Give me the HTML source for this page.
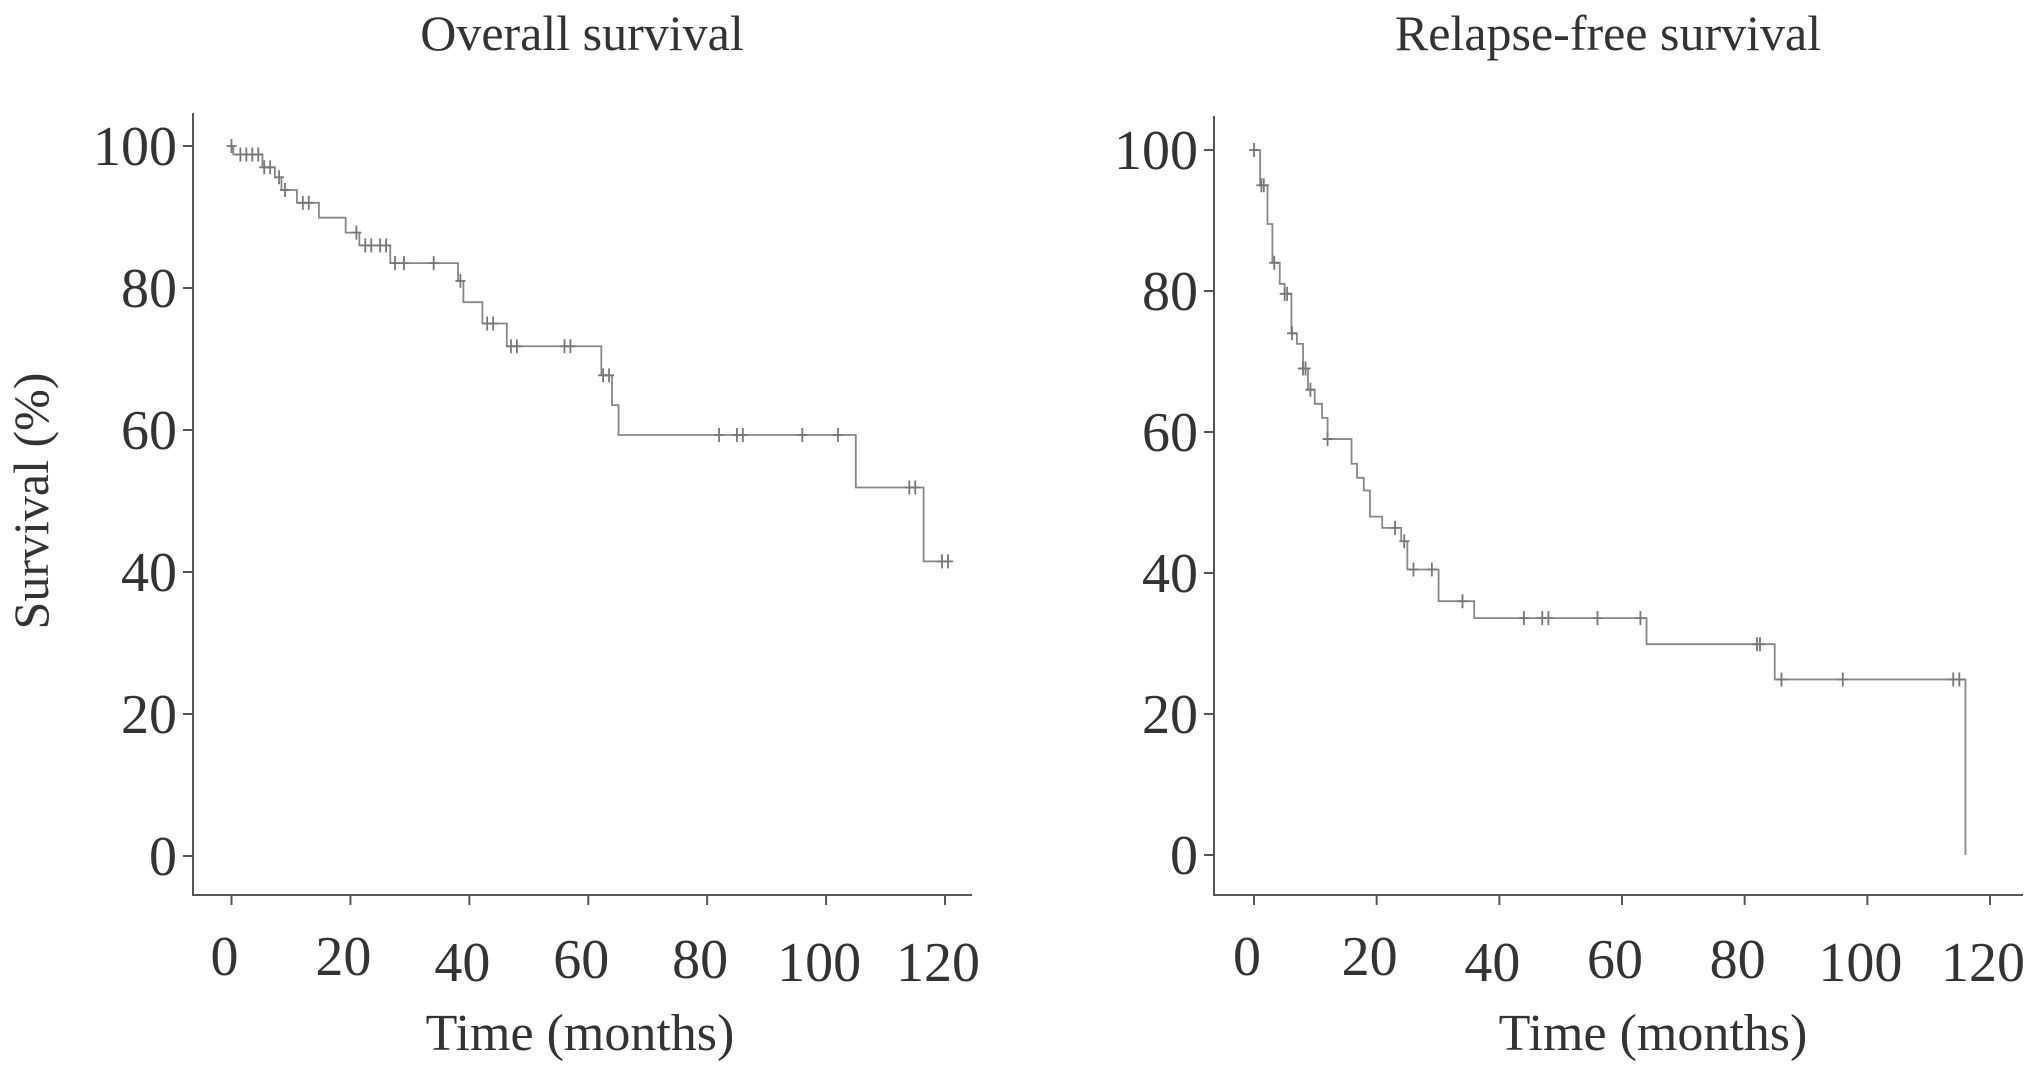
<!DOCTYPE html>
<html><head><meta charset="utf-8"><style>
html,body{margin:0;padding:0;background:#fff;}
svg{display:block;font-family:"Liberation Serif","DejaVu Serif",serif;}
</style></head><body>
<svg id="c" width="2031" height="1070" viewBox="0 0 2031 1070" xmlns="http://www.w3.org/2000/svg"></svg>
<script>
// Overall survival: step times (months) and survival (%) after each step
const osTimes=[0,0.3,5.2,7.3,8.4,11,14.7,19.2,21.5,26.7,38.1,39,42.2,46.3,62.2,64,65.1,105,116.4];
const osValues=[100,98.8,97,95.6,93.8,92,89.9,87.8,86,83.5,81,78,75,71.8,67.7,63.5,59.3,51.9,41.5];
const osEnd=120.6;
const osCensor=[0,1.5,2.5,3.5,4.5,5.5,6.5,8,9,12,13,21,22.5,23.5,25,26,27.5,29,34,38.5,43,44,47,48,56,57,62.5,63.5,82,85,86,96,102,114,115,119.5,120.5];
// Relapse-free survival
const rfsTimes=[0,1,2.2,3,4.2,5,6.1,7,8,8.8,9.9,11.1,12,15.9,16.8,17.9,18.9,20.9,24,25,30.1,35.9,64,84.9,116];
const rfsValues=[100,95,89.5,84,81,79.6,74,72.5,69,66,64,62,59,55.5,53.5,51.7,48,46.4,44.5,40.5,36,33.6,29.9,24.9,0];
const rfsEnd=116;
const rfsCensor=[0,1.2,1.6,3.3,5,5.4,6.2,8,8.4,9.2,12,23,24.5,26,29,34,44,47,48,56,63,82,82.5,86,96,114,115];
const xTicks=[0,20,40,60,80,100,120];
const yTicks=[0,20,40,60,80,100];
const xTickDy=[0,0,6,3,3,6,6];

const NS="http://www.w3.org/2000/svg";
const svg=document.getElementById('c');
function mk(tag,attrs,parent){const e=document.createElementNS(NS,tag);for(const k in attrs)e.setAttribute(k,attrs[k]);(parent||svg).appendChild(e);return e;}

function panel(cfg,times,vals,end,cens,prefix){
  const g=mk('g',{});
  
  
  const X=t=>cfg.x0+(t/120)*(cfg.x120-cfg.x0);
  const Y=v=>cfg.y0-(v/100)*(cfg.y0-cfg.y100);
  const t=mk('text',{x:cfg.titleX,y:50,'font-size':50,fill:'#333','text-anchor':'middle'},g);
  t.textContent=cfg.title;
  
  
  const ax=mk('path',{d:`M${cfg.ax},${cfg.top}V${cfg.bottom}H${cfg.right}`,stroke:'#555','stroke-width':2,fill:'none'},g);
  
  
  yTicks.forEach(v=>{
    mk('line',{x1:cfg.ax-10,x2:cfg.ax,y1:Y(v),y2:Y(v),stroke:'#555','stroke-width':2},g);
    const l=mk('text',{x:cfg.ax-16,y:Y(v)+19,'font-size':56,fill:'#333','text-anchor':'end'},g);
    l.textContent=v;
    
    
  });
  xTicks.forEach((v,i)=>{
    mk('line',{x1:X(v),x2:X(v),y1:cfg.bottom,y2:cfg.bottom+10,stroke:'#555','stroke-width':2},g);
    const l=mk('text',{x:X(v)-7,y:975+xTickDy[i],'font-size':56,fill:'#333','text-anchor':'middle'},g);
    l.textContent=v;
    
    
  });
  const xt=mk('text',{x:cfg.xTitleX,y:1050,'font-size':52,fill:'#333','text-anchor':'middle'},g);
  xt.textContent='Time (months)';
  
  
  let d=`M${X(times[0])},${Y(vals[0])}`;
  for(let i=1;i<times.length;i++){d+=`H${X(times[i])}V${Y(vals[i])}`;}
  d+=`H${X(end)}`;
  const c=mk('path',{d:d,stroke:'#888','stroke-width':1.8,fill:'none'},g);
  
  
  const sAt=tt=>{let v=vals[0];for(let i=0;i<times.length;i++){if(times[i]<=tt)v=vals[i];}return v;};
  cens.forEach(tt=>{
    const x=X(tt),y=Y(sAt(tt));
    const m=mk('path',{d:`M${x-5},${y}H${x+5}M${x},${y-7}V${y+7}`,stroke:'#777','stroke-width':1.8,fill:'none'},g);
    
    
  });
}
panel({x0:231.5,x120:945,y0:856,y100:146,ax:193,top:113,bottom:895,right:972,titleX:582,xTitleX:580,title:'Overall survival'},osTimes,osValues,osEnd,osCensor,'os');
panel({x0:1254,x120:1990,y0:855,y100:150,ax:1214,top:116,bottom:895,right:2023,titleX:1608,xTitleX:1653,title:'Relapse-free survival'},rfsTimes,rfsValues,rfsEnd,rfsCensor,'rfs');
const yt=mk('text',{x:0,y:0,'font-size':50,fill:'#333','text-anchor':'middle',transform:'translate(48,501) rotate(-90)'});
yt.textContent='Survival (%)';


</script>
</body></html>
